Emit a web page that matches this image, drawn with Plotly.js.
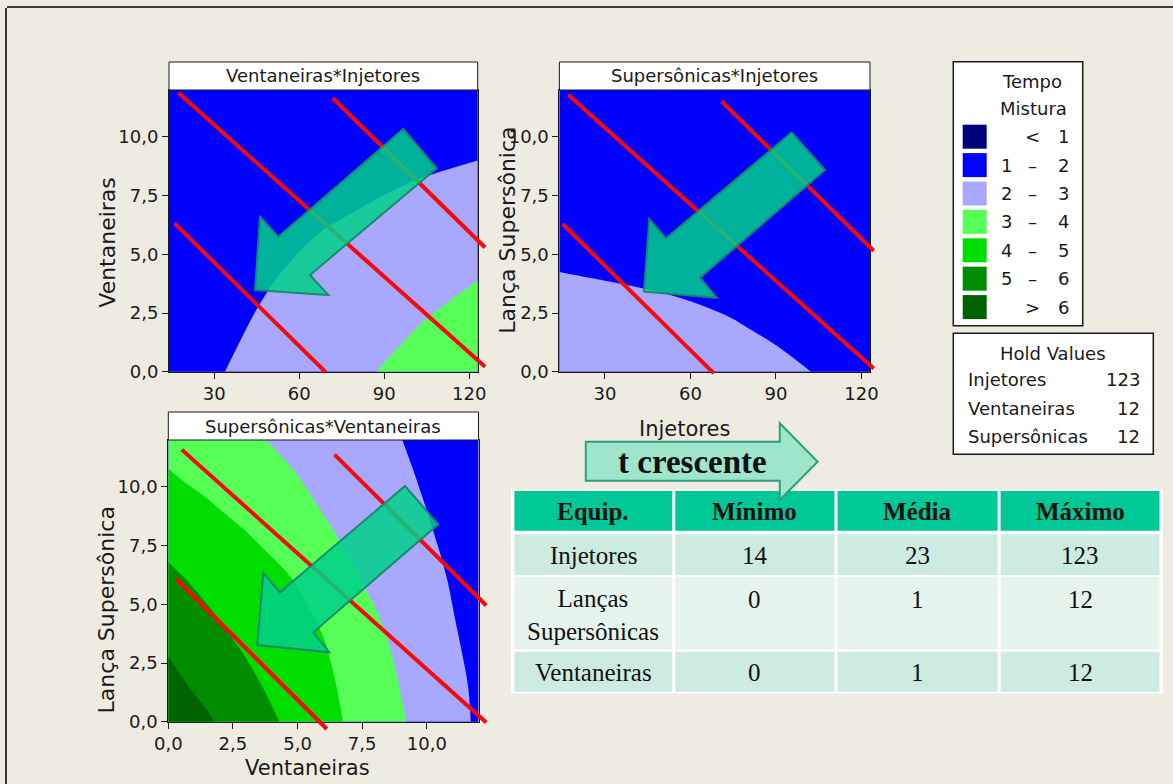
<!DOCTYPE html>
<html><head><meta charset="utf-8">
<script src="https://cdn.plot.ly/plotly-3.0.1.min.js"></script>
<style>html,body{margin:0;padding:0;background:#EEEBE1;overflow:hidden}#chart{width:1173px;height:784px}</style>
</head><body><div id="chart"></div>
<script>
// ---------------- DATA ----------------
// Panel 1: Ventaneiras (y) x Injetores (x)
const injetoresGrid = [14, 30, 45, 60, 75, 90, 105, 123];
const ventaneirasGrid1 = [0, 2, 4, 6, 8, 10, 12];
const tempoVI = [
  [1.63, 1.93, 2.21, 2.49, 2.77, 3.05, 3.34, 3.67],
  [1.54, 1.80, 2.05, 2.30, 2.55, 2.79, 3.04, 3.34],
  [1.46, 1.69, 1.90, 2.11, 2.32, 2.54, 2.75, 2.98],
  [1.36, 1.55, 1.73, 1.91, 2.08, 2.26, 2.44, 2.65],
  [1.16, 1.32, 1.47, 1.62, 1.77, 1.92, 2.07, 2.25],
  [1.12, 1.20, 1.28, 1.37, 1.46, 1.55, 1.65, 1.75],
  [1.10, 1.15, 1.21, 1.28, 1.35, 1.43, 1.51, 1.60]
];
// Panel 2: Lança Supersônica (y) x Injetores (x)
const supersonicasGrid2 = [0, 2, 4, 6, 8, 10, 12];
const tempoSI = [
  [2.34, 2.31, 2.28, 2.24, 2.18, 2.09, 1.98, 1.88],
  [2.18, 2.15, 2.12, 2.08, 2.02, 1.93, 1.82, 1.72],
  [2.02, 1.99, 1.96, 1.92, 1.86, 1.77, 1.66, 1.56],
  [1.86, 1.83, 1.80, 1.76, 1.70, 1.61, 1.50, 1.40],
  [1.70, 1.67, 1.64, 1.60, 1.54, 1.45, 1.34, 1.24],
  [1.54, 1.51, 1.48, 1.44, 1.38, 1.29, 1.18, 1.10],
  [1.38, 1.35, 1.32, 1.28, 1.22, 1.13, 1.06, 1.04]
];
// Panel 3: Lança Supersônica (y) x Ventaneiras (x)
const ventaneirasGrid3 = [0, 1.5, 3, 4.5, 6, 7.5, 9, 10.5, 12];
const supersonicasGrid3 = [0, 1.5, 3, 4.5, 6, 7.5, 9, 10.5, 12];
const tempoSV = [
  [6.72, 6.12, 5.52, 4.92, 4.31, 3.69, 3.08, 2.48, 1.88],
  [6.28, 5.75, 5.22, 4.70, 4.20, 3.61, 2.97, 2.41, 1.85],
  [5.95, 5.39, 4.95, 4.51, 4.07, 3.46, 2.84, 2.30, 1.77],
  [5.47, 5.09, 4.71, 4.32, 3.89, 3.24, 2.69, 2.19, 1.69],
  [5.17, 4.82, 4.47, 4.12, 3.59, 2.98, 2.53, 2.09, 1.64],
  [4.85, 4.51, 4.16, 3.73, 3.22, 2.78, 2.38, 1.98, 1.58],
  [4.44, 4.13, 3.77, 3.37, 2.97, 2.61, 2.24, 1.88, 1.51],
  [4.06, 3.75, 3.43, 3.11, 2.78, 2.45, 2.12, 1.79, 1.45],
  [3.75, 3.45, 3.15, 2.86, 2.57, 2.29, 2.01, 1.73, 1.45]
];
// Red constraint lines (start/end points in data units)
const viLineX = [[17.3, 125.6], [71.8, 125.6], [15.9, 69.4]];
const viLineY = [[11.88, 0.21], [11.66, 5.29], [6.33, -0.03]];
const siLineX = [[17.1, 124.3], [70.9, 124.3], [15.2, 68.2]];
const siLineY = [[11.8, 0.14], [11.52, 5.15], [6.29, -0.07]];
const svLineX = [[0.52, 12.3], [6.43, 12.3], [0.3, 6.13]];
const svLineY = [[11.59, -0.03], [11.38, 4.95], [6.09, -0.31]];
// Ticks
const injTicks = [30, 60, 90, 120];
const injTickText = ['30', '60', '90', '120'];
const unitTicks = [0, 2.5, 5, 7.5, 10];
const unitTickText = ['0,0', '2,5', '5,0', '7,5', '10,0'];
// Legend
const legendTitle = ['Tempo', 'Mistura'];
const legendLo = ['', '1', '2', '3', '4', '5', ''];
const legendSym = ['<', '–', '–', '–', '–', '–', '>'];
const legendHi = ['1', '2', '3', '4', '5', '6', '6'];
const bandColors = ['#00007C', '#0000FF', '#A8A8FF', '#55FF55', '#00DD00', '#008E00', '#006200'];
// Hold values
const holdNames = ['Injetores', 'Ventaneiras', 'Supersônicas'];
const holdVals = ['123', '12', '12'];
// Table
const tableHeader = ['Equip.', 'Mínimo', 'Média', 'Máximo'];
const equipNames = ['Injetores', 'Lanças<br>Supersônicas', 'Ventaneiras'];
const minVals = [14, 0, 0];
const meanVals = [23, 1, 1];
const maxVals = [123, 12, 12];

// ---------------- LAYOUT HELPERS ----------------
const W = 1173, H = 784;
const px = v => v / W;
const py = v => 1 - v / H;
const FONT = 'DejaVu Sans';
const TXT = '#1a1a1a';

// colorscale with hard steps (levels 1..6, bands evaluated at midpoints)
const cs = [];
for (let i = 0; i < 6; i++) {
  cs.push([i / 6, bandColors[i]]);
  cs.push([i === 5 ? 0.95 : (i + 1) / 6, bandColors[i]]);
}
cs.push([0.95, bandColors[6]]);
cs.push([1, bandColors[6]]);

const panels = [
  {title: 'Ventaneiras*Injetores', x: injetoresGrid, y: ventaneirasGrid1, z: tempoVI, xr: [14, 123], yr: [0, 12],
   box: [169, 477.7, 90, 371.7], xt: injTicks, xtt: injTickText, lx: viLineX, ly: viLineY,
   arrow: [[403.3,129],[436.7,168.3],[310,275],[328.3,295],[255,290],[260,216.7],[278.3,236.7]],
   ytitle: {text: 'Ventaneiras', x: 106.7, y: 242}},
  {title: 'Supersônicas*Injetores', x: injetoresGrid, y: supersonicasGrid2, z: tempoSI, xr: [14, 123], yr: [0, 12],
   box: [559.4, 870, 90, 371.7], xt: injTicks, xtt: injTickText, lx: siLineX, ly: siLineY,
   arrow: [[791.7,132.3],[825,170],[700,277.7],[716.7,297.7],[644,291.7],[649.3,219],[666,238.3]],
   ytitle: {text: 'Lança Supersônica', x: 506.7, y: 230}, xtitle: {text: 'Injetores', x: 684.5, y: 429}},
  {title: 'Supersônicas*Ventaneiras', x: ventaneirasGrid3, y: supersonicasGrid3, z: tempoSV, xr: [0, 12], yr: [0, 12],
   box: [168.3, 478.5, 440, 721.7], xt: unitTicks, xtt: unitTickText, lx: svLineX, ly: svLineY,
   arrow: [[405,486],[438.3,524.3],[313.3,632.3],[329.3,652.3],[257.3,645],[263.3,573.3],[280,592.3]],
   ytitle: {text: 'Lança Supersônica', x: 106.7, y: 609.7}, xtitle: {text: 'Ventaneiras', x: 307.5, y: 768}}
];

const data = [];
const shapes = [];
const annotations = [];
const layout = {
  width: W, height: H, margin: {l: 0, r: 0, t: 0, b: 0},
  paper_bgcolor: '#EEEBE1', plot_bgcolor: 'rgba(0,0,0,0)', showlegend: false,
  font: {family: FONT, color: TXT}
};

function pathPx(pts) {
  return 'M' + pts.map(p => px(p[0]).toFixed(5) + ',' + py(p[1]).toFixed(5)).join(' L') + ' Z';
}
function ann(text, x, y, opts) {
  annotations.push(Object.assign({text: text, x: px(x), y: py(y), xref: 'paper', yref: 'paper',
    showarrow: false, xanchor: 'center', yanchor: 'middle',
    font: {family: FONT, size: 18, color: TXT}}, opts || {}));
}

// outer frame
shapes.push({type: 'line', xref: 'paper', yref: 'paper', x0: px(6), x1: px(6), y0: py(8), y1: py(784), line: {color: '#3c3c3c', width: 2}});
shapes.push({type: 'line', xref: 'paper', yref: 'paper', x0: px(7), x1: px(1173), y0: py(7), y1: py(7), line: {color: '#3c3c3c', width: 2}});

panels.forEach((p, i) => {
  const s = i === 0 ? '' : String(i + 1);
  const so = String(i + 4);
  const b = p.box;
  layout['xaxis' + s] = {domain: [px(b[0]), px(b[1])], range: p.xr, anchor: 'y' + s, showgrid: false, zeroline: false,
    showline: true, linecolor: '#1a1a1a', linewidth: 1, mirror: true, ticks: 'outside', ticklen: 6, tickcolor: '#1a1a1a',
    tickmode: 'array', tickvals: p.xt, ticktext: p.xtt, tickfont: {family: FONT, size: 18, color: TXT}, fixedrange: true};
  layout['yaxis' + s] = {domain: [py(b[3]), py(b[2])], range: p.yr, anchor: 'x' + s, showgrid: false, zeroline: false,
    showline: true, linecolor: '#1a1a1a', linewidth: 1, mirror: true, ticks: 'outside', ticklen: 6, tickcolor: '#1a1a1a',
    tickmode: 'array', tickvals: unitTicks, ticktext: unitTickText, tickfont: {family: FONT, size: 18, color: TXT}, fixedrange: true};
  // overlay axes with identical scale but larger domain so the red lines can run past the frame
  const E = 25;
  const ppx = (b[1] - b[0]) / (p.xr[1] - p.xr[0]);
  const ppy = (b[3] - b[2]) / (p.yr[1] - p.yr[0]);
  layout['xaxis' + so] = {domain: [px(b[0] - E), px(b[1] + E)], range: [p.xr[0] - E / ppx, p.xr[1] + E / ppx],
    anchor: 'y' + so, visible: false, fixedrange: true};
  layout['yaxis' + so] = {domain: [py(b[3] + E), py(b[2] - E)], range: [p.yr[0] - E / ppy, p.yr[1] + E / ppy],
    anchor: 'x' + so, visible: false, fixedrange: true};

  data.push({type: 'contour', x: p.x, y: p.y, z: p.z, xaxis: 'x' + s, yaxis: 'y' + s,
    autocontour: false, contours: {start: 1, end: 6, size: 1, coloring: 'fill', showlines: false},
    colorscale: cs, showscale: false, line: {width: 0, smoothing: 1}, hoverinfo: 'skip'});
  p.lx.forEach((lx, k) => {
    data.push({type: 'scatter', mode: 'lines', x: lx, y: p.ly[k], xaxis: 'x' + so, yaxis: 'y' + so,
      line: {color: '#F50A0A', width: 4}, hoverinfo: 'skip'});
  });
  // title strip
  shapes.push({type: 'rect', xref: 'paper', yref: 'paper', x0: px(b[0]), x1: px(b[1]), y0: py(b[2]), y1: py(b[2] - 28),
    fillcolor: '#FFFFFF', line: {color: '#1a1a1a', width: 1}});
  ann(p.title, (b[0] + b[1]) / 2, b[2] - 14, {font: {family: FONT, size: 18, color: TXT}});
  // big teal arrow
  shapes.push({type: 'path', xref: 'paper', yref: 'paper', path: pathPx(p.arrow),
    fillcolor: 'rgba(0,209,137,0.85)', line: {color: 'rgba(25,135,105,0.95)', width: 2}});
  ann(p.ytitle.text, p.ytitle.x, p.ytitle.y, {textangle: -90, font: {family: FONT, size: 22, color: TXT}});
  if (p.xtitle) ann(p.xtitle.text, p.xtitle.x, p.xtitle.y, {font: {family: FONT, size: 21, color: TXT}});
});

// Legend box
shapes.push({type: 'rect', xref: 'paper', yref: 'paper', x0: px(953.3), x1: px(1082.7), y0: py(61.7), y1: py(325.7),
  fillcolor: '#FFFFFF', line: {color: '#1a1a1a', width: 1.5}});
ann(legendTitle[0], 1031.5, 81.7);
ann(legendTitle[1], 1033.5, 108.3);
bandColors.forEach((c, i) => {
  const yc = 136.7 + i * 28.4;
  shapes.push({type: 'rect', xref: 'paper', yref: 'paper', x0: px(962.7), x1: px(986.7), y0: py(yc + 12), y1: py(yc - 12),
    fillcolor: c, line: {width: 0}});
  if (legendLo[i]) ann(legendLo[i], 1006, yc);
  ann(legendSym[i], 1032, yc);
  ann(legendHi[i], 1063, yc);
});
// Hold values box
shapes.push({type: 'rect', xref: 'paper', yref: 'paper', x0: px(953.3), x1: px(1153.3), y0: py(333.3), y1: py(454.3),
  fillcolor: '#FFFFFF', line: {color: '#1a1a1a', width: 1.5}});
ann('Hold Values', 1053, 353);
holdNames.forEach((n, i) => {
  const yc = 380 + i * 28.3;
  ann(n, 966, yc, {xanchor: 'left'});
  ann(holdVals[i], 1142, yc, {xanchor: 'right'});
});

// Table
const colEdges = [512.9, 673.8, 836, 999.1, 1161];
const rowEdges = [[491, 530.7], [534.3, 575], [576.7, 649.3], [651.7, 691.7]];
const rowFill = ['#00C896', '#CDEBE0', '#E6F4EE', '#CDEBE0'];
shapes.push({type: 'rect', xref: 'paper', yref: 'paper', x0: px(511), x1: px(1163), y0: py(693.5), y1: py(489.5),
  fillcolor: '#FFFFFF', line: {width: 0}});
rowEdges.forEach((r, ri) => {
  for (let c = 0; c < 4; c++) {
    shapes.push({type: 'rect', xref: 'paper', yref: 'paper', x0: px(colEdges[c] + 1.5), x1: px(colEdges[c + 1] - 1.5),
      y0: py(r[1]), y1: py(r[0]), fillcolor: rowFill[ri], line: {width: 0}});
  }
});
const colCenter = c => (colEdges[c] + colEdges[c + 1]) / 2;
const SERIF = 'Liberation Serif';
tableHeader.forEach((h, c) => ann('<b>' + h + '</b>', colCenter(c), 512, {font: {family: SERIF, size: 25, color: '#111'}}));
const rowTextY = [555, 599.3, 672.3];
const rowNameY = [555, 614.6, 672.3];
equipNames.forEach((n, r) => {
  ann(n, colCenter(0), rowNameY[r], {font: {family: SERIF, size: 25, color: '#111'}});
  ann(String(minVals[r]), colCenter(1), rowTextY[r], {font: {family: SERIF, size: 25, color: '#111'}});
  ann(String(meanVals[r]), colCenter(2), rowTextY[r], {font: {family: SERIF, size: 25, color: '#111'}});
  ann(String(maxVals[r]), colCenter(3), rowTextY[r], {font: {family: SERIF, size: 25, color: '#111'}});
});

// "t crescente" arrow
shapes.push({type: 'path', xref: 'paper', yref: 'paper',
  path: pathPx([[585.8,441.7],[779.8,441.7],[779.8,423.3],[817.6,461.7],[779.8,500],[779.8,480.7],[585.8,480.7]]),
  fillcolor: 'rgba(155,228,203,0.97)', line: {color: '#2E9F78', width: 2}});
ann('<b>t crescente</b>', 692, 462, {font: {family: SERIF, size: 33, color: '#111'}});

layout.shapes = shapes;
layout.annotations = annotations;
Plotly.newPlot('chart', data, layout, {displayModeBar: false, staticPlot: true});
</script></body></html>
